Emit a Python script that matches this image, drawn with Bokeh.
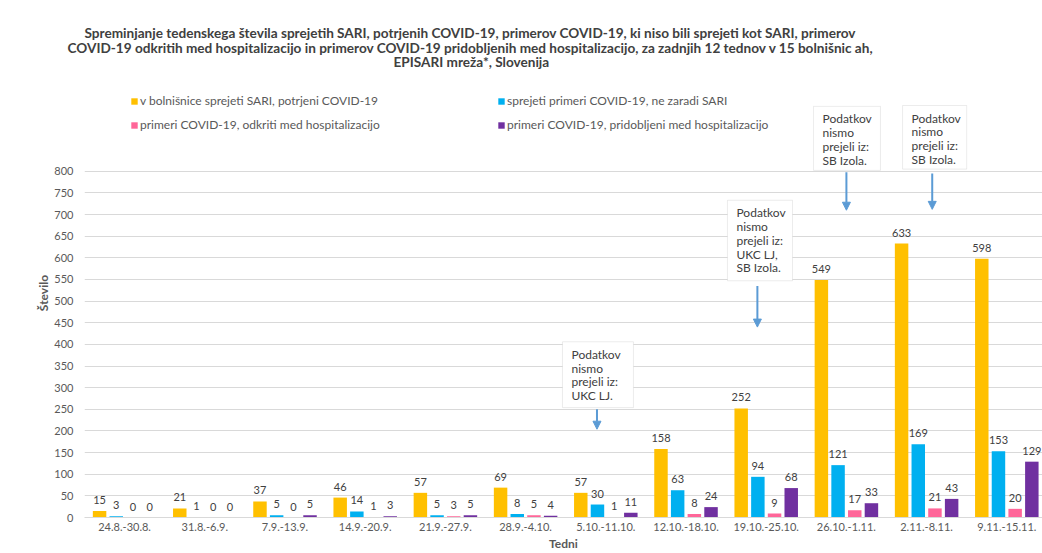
from bokeh.plotting import figure
from bokeh.models import (ColumnDataSource, Range1d, FixedTicker, Legend, LegendItem,
                          BoxAnnotation, Label, Arrow, NormalHead, Title)
from bokeh.transform import dodge
from bokeh.core.properties import value
from bokeh.embed import file_html
from bokeh.resources import INLINE

# ---------------- data ----------------
weeks = ["24.8.-30.8.", "31.8.-6.9.", "7.9.-13.9.", "14.9.-20.9.", "21.9.-27.9.",
         "28.9.-4.10.", "5.10.-11.10.", "12.10.-18.10.", "19.10.-25.10.",
         "26.10.-1.11.", "2.11.-8.11.", "9.11.-15.11."]
sari_covid = [15, 21, 37, 46, 57, 69, 57, 158, 252, 549, 633, 598]
covid_not_sari = [3, 1, 5, 14, 5, 8, 30, 63, 94, 121, 169, 153]
covid_detected = [0, 0, 0, 1, 3, 5, 1, 8, 9, 17, 21, 20]
covid_acquired = [0, 0, 5, 3, 5, 4, 11, 24, 68, 33, 43, 129]
series_names = ["v bolnišnice sprejeti SARI, potrjeni COVID-19",
                "sprejeti primeri COVID-19, ne zaradi SARI",
                "primeri COVID-19, odkriti med hospitalizacijo",
                "primeri COVID-19, pridobljeni med hospitalizacijo"]
y_ticks = list(range(0, 801, 50))
title_lines = ["Spreminjanje tedenskega števila sprejetih SARI, potrjenih COVID-19, primerov COVID-19, ki niso bili sprejeti kot SARI, primerov",
               "COVID-19 odkritih med hospitalizacijo in primerov COVID-19 pridobljenih med hospitalizacijo, za zadnjih 12 tednov v 15 bolnišnic ah,",
               "EPISARI mreža*, Slovenija"]
notes = [("5.10.-11.10.", "Podatkov\nnismo\nprejeli iz:\nUKC LJ."),
         ("19.10.-25.10.", "Podatkov\nnismo\nprejeli iz:\nUKC LJ,\nSB Izola."),
         ("26.10.-1.11.", "Podatkov\nnismo\nprejeli iz:\nSB Izola."),
         ("2.11.-8.11.", "Podatkov\nnismo\nprejeli iz:\nSB Izola.")]

# ---------------- style ----------------
colors = ["#FFC000", "#00B0F0", "#FF6699", "#7030A0"]
offsets = [-0.312, -0.104, 0.104, 0.312]
bar_w = 0.168
FONT = "Lato"
TXT = "#595959"
DARK = "#404040"
# callout geometry (box left/right offset from category centre, box top/bottom, arrow x offset, arrow y start/end)
note_geom = [(-0.54, 0.345, 406, 254, -0.11, 250, 204),
             (-0.483, 0.328, 733, 547, -0.11, 535, 440),
             (-0.41, 0.425, 950, 802, 0.0, 798, 710),
             (-0.30, 0.50, 952, 805, 0.07, 795, 712)]

p = figure(width=1042, height=553, output_backend="svg", toolbar_location=None,
           x_range=Range1d(-0.5, 11.445), y_range=Range1d(0, 1037.5),
           min_border_left=84, min_border_right=0, min_border_top=68, min_border_bottom=35,
           title=None)
p.outline_line_color = None
p.xgrid.grid_line_color = None
p.ygrid.grid_line_color = "#D9D9D9"

p.yaxis.ticker = FixedTicker(ticks=y_ticks)
p.yaxis.axis_line_color = None
p.yaxis.major_tick_line_color = None
p.yaxis.major_tick_out = 0
p.yaxis.major_tick_in = 0
p.yaxis.minor_tick_line_color = None
p.yaxis.major_label_text_font = FONT
p.yaxis.major_label_text_font_size = "11px"
p.yaxis.major_label_text_color = TXT
p.yaxis.major_label_standoff = 11
p.yaxis.axis_label = "Število"
p.yaxis.axis_label_text_font = FONT
p.yaxis.axis_label_text_font_size = "12px"
p.yaxis.axis_label_text_font_style = "bold"
p.yaxis.axis_label_text_color = TXT
p.yaxis.axis_label_standoff = 0

p.xaxis.ticker = FixedTicker(ticks=list(range(len(weeks))))
p.xaxis.major_label_overrides = {i: w for i, w in enumerate(weeks)}
p.xaxis.axis_line_color = "#D9D9D9"
p.xaxis.major_tick_line_color = None
p.xaxis.major_tick_out = 0
p.xaxis.major_tick_in = 0
p.xaxis.minor_tick_line_color = None
p.xaxis.major_label_text_font = FONT
p.xaxis.major_label_text_font_size = "11px"
p.xaxis.major_label_text_color = TXT
p.xaxis.major_label_standoff = 5
p.xaxis.axis_label = "Tedni"
p.xaxis.axis_label_text_font = FONT
p.xaxis.axis_label_text_font_size = "12px"
p.xaxis.axis_label_text_font_style = "bold"
p.xaxis.axis_label_text_color = TXT
p.xaxis.axis_label_standoff = 2

all_series = [sari_covid, covid_not_sari, covid_detected, covid_acquired]
renderers = []
for vals, col, off in zip(all_series, colors, offsets):
    src = ColumnDataSource(dict(x=list(range(len(weeks))), y=vals, label=[str(v) for v in vals]))
    r = p.vbar(x=dodge("x", off, range=p.x_range), top="y", width=bar_w, source=src,
               fill_color=col, line_color=None)
    renderers.append(r)
    p.text(x=dodge("x", off, range=p.x_range), y="y", text="label", source=src,
           text_align="center", text_baseline="bottom", y_offset=-7,
           text_font=value(FONT), text_font_size="11px", text_color=DARK)

for items, loc in [((0, 2), (46, 385)), ((1, 3), (413, 385))]:
    lg = Legend(items=[LegendItem(label=series_names[i], renderers=[renderers[i]]) for i in items],
                location=loc, orientation="vertical", spacing=9, label_height=12,
                glyph_height=8, glyph_width=8, label_standoff=2, padding=0, margin=0,
                border_line_color=None, background_fill_alpha=0,
                label_text_font=FONT, label_text_font_size="12px", label_text_color=TXT)
    p.add_layout(lg, "center")

for (week, txt), (l, r, t, b, ax, ay0, ay1) in zip(notes, note_geom):
    c = weeks.index(week)
    p.add_layout(BoxAnnotation(left=c + l, right=c + r, top=t, bottom=b, fill_color="white",
                               fill_alpha=1, line_color="#BFBFBF", line_width=1))
    p.add_layout(Label(x=c + l, y=t, x_offset=9, y_offset=-5, text=txt, text_baseline="top",
                       text_align="left", text_font=FONT, text_font_size="12px",
                       text_color=DARK, text_line_height=0.92))
    p.add_layout(Arrow(x_start=c + ax, y_start=ay0, x_end=c + ax, y_end=ay1,
                       line_color="#5B9BD5", line_width=2,
                       end=NormalHead(size=8, fill_color="#5B9BD5", line_color="#5B9BD5")))

title_offsets = [0, -17, 309]
title_standoffs = [0, -6, -2]
for line, off, so in reversed(list(zip(title_lines, title_offsets, title_standoffs))):
    p.add_layout(Title(text=line, align="left", offset=off, standoff=so,
                       text_font=FONT, text_font_size="13.6px", text_font_style="bold",
                       text_color=DARK), "above")

open("out.html", "w").write(file_html(p, INLINE))
